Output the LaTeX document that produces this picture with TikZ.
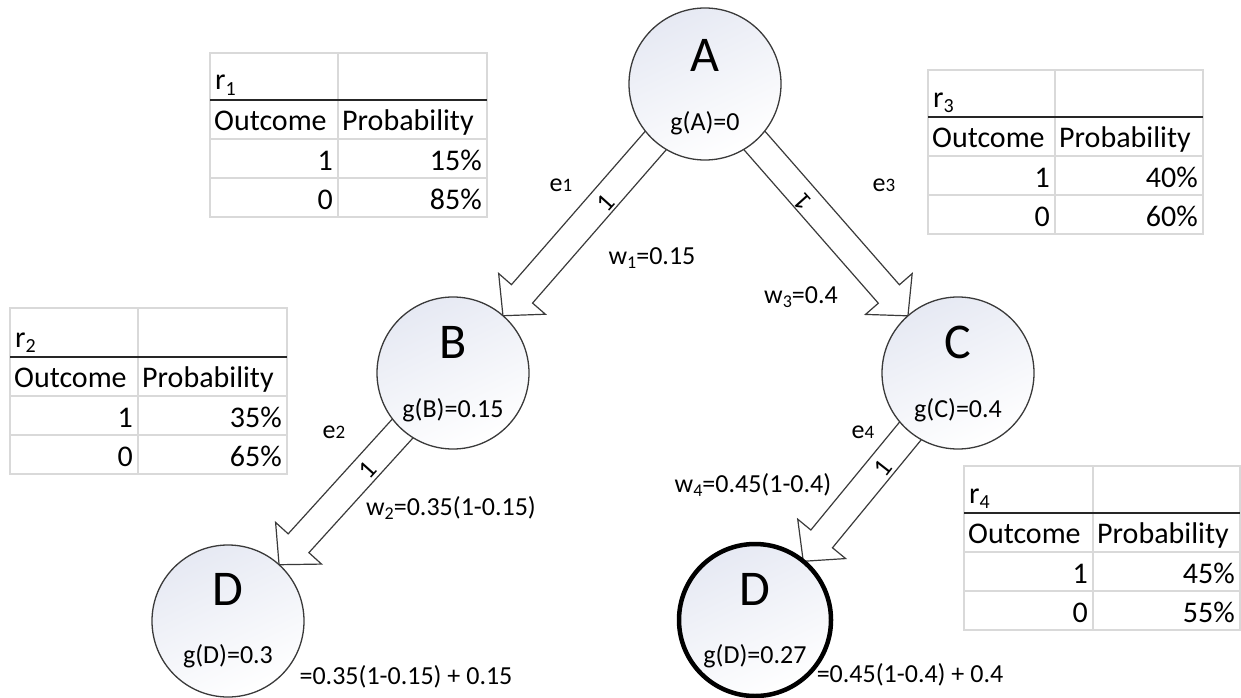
\documentclass[tikz,border=0pt]{standalone}
\usepackage{fontspec}
\setmainfont{Carlito}
\usetikzlibrary{calc}
\definecolor{gridc}{HTML}{D9D9D9}
\definecolor{nodeline}{HTML}{3A3A3A}
\definecolor{nodefill}{HTML}{E6E9F3}
\newcommand\fs[1]{\fontsize{#1}{#1}\selectfont}
\newcommand\lowsub[1]{\raisebox{-0.35ex}{\fs{18}#1}}
\newcommand\tabsub[1]{\raisebox{-0.35ex}{\fs{20}#1}}
\newcommand\edigit[1]{{\fs{19}#1}}
\pgfdeclarelayer{bg}
\pgfsetlayers{bg,main}
\tikzset{
  circnode/.style={circle, draw=nodeline, line width=1.3pt, minimum size=152pt, inner sep=0pt,
    top color=nodefill, bottom color=white, shading angle=25},
  boldcirc/.style={circnode, draw=black, line width=4.5pt},
  bigletter/.style={font=\fs{50}, anchor=base, inner sep=0pt},
  glabel/.style={font=\fs{26}, anchor=base, inner sep=0pt},
  edgelabel/.style={font=\fs{26}, inner sep=0pt},
  onelabel/.style={font=\fs{26}, inner sep=0pt},
  blockarrow/.style={draw=nodeline, line width=1.2pt, fill=white, line join=miter},
  gridline/.style={draw=gridc, line width=1.4pt},
  thickline/.style={draw=black!85, line width=2.4pt},
  celltext/.style={font=\fs{30}, inner sep=0pt},
}
% block arrow from source node #1 to target node #2, coordinate prefix #3
\newcommand\blockarr[3]{%
  \coordinate (#3-s) at (#1.center);
  \coordinate (#3-t) at ($(#2.center)!76pt!(#1.center)$);
  \coordinate (#3-h) at ($(#3-t)!29pt!(#1.center)$);
  \begin{pgfonlayer}{bg}
  \draw[blockarrow] ($(#3-s)!14pt!90:(#3-t)$) -- ($(#3-h)!14pt!90:(#3-t)$)
     -- ($(#3-h)!31pt!90:(#3-t)$) -- (#3-t) -- ($(#3-h)!31pt!-90:(#3-t)$)
     -- ($(#3-h)!14pt!-90:(#3-t)$) -- ($(#3-s)!14pt!-90:(#3-t)$) -- cycle;
  \end{pgfonlayer}
}
% table: #1 name, #2 x0, #3 xm, #4 x1, #5 ytop, #6 ythick, #7 sub, #8 p1, #9 p0
\newcommand\probtable[9]{%
  \pgfmathsetmacro\tabRa{#6+39}%
  \pgfmathsetmacro\tabRb{#6+78}%
  \pgfmathsetmacro\tabRc{#6+117}%
  \draw[gridline] (#2,#5) rectangle (#4,\tabRc);
  \draw[gridline] (#3,#5) -- (#3,\tabRc);
  \draw[gridline] (#2,\tabRa) -- (#4,\tabRa) (#2,\tabRb) -- (#4,\tabRb);
  \draw[thickline] (#2,#6) -- (#4,#6);
  \node[celltext, anchor=base west] (#1-title) at (#2+5,#6-10) {r\tabsub{#7}};
  \node[celltext, anchor=base west] (#1-h1) at (#2+4,#6+30) {Outcome};
  \node[celltext, anchor=base west] (#1-h2) at (#3+4,#6+30) {Probability};
  \node[celltext, anchor=base east] (#1-o1) at (#3-5,\tabRa+31) {1};
  \node[celltext, anchor=base east] (#1-p1) at (#4-5,\tabRa+31) {#8\%};
  \node[celltext, anchor=base east] (#1-o0) at (#3-5,\tabRb+31) {0};
  \node[celltext, anchor=base east] (#1-p0) at (#4-5,\tabRb+31) {#9\%};
}
\begin{document}
\begin{tikzpicture}[x=1pt,y=-1pt]
\useasboundingbox (0,0) rectangle (1241,698);

% circles
\node[circnode] (A) at (705,84) {};
\node[circnode] (B) at (453,373) {};
\node[circnode] (C) at (958,373) {};
\node[circnode] (D1) at (228,621) {};
\node[boldcirc] (D2) at (755,620) {};

\node[bigletter] (A-l) at (705,72) {A};
\node[glabel] (A-g) at (705,131) {g(A)=0};
\node[bigletter] (B-l) at (453,358) {B};
\node[glabel] (B-g) at (453,417) {g(B)=0.15};
\node[bigletter] (C-l) at (958,358) {C};
\node[glabel] (C-g) at (958,417) {g(C)=0.4};
\node[bigletter] (D1-l) at (228,605) {D};
\node[glabel] (D1-g) at (228,663) {g(D)=0.3};
\node[bigletter] (D2-l) at (755,605) {D};
\node[glabel] (D2-g) at (755,663) {g(D)=0.27};

% arrows
\blockarr{A}{B}{ab}
\blockarr{A}{C}{ac}
\blockarr{B}{D1}{bd}
\blockarr{C}{D2}{cd}

\node[onelabel, rotate=48] (ab-1) at (606,203) {1};
\node[onelabel, rotate=132] (ac-1) at (803,202) {1};
\node[onelabel, rotate=48] (bd-1) at (368,470) {1};
\node[onelabel, rotate=52] (cd-1) at (883,468) {1};

\node[edgelabel] (e1) at (561,185) {e\edigit{1}};
\node[edgelabel] (e3) at (884,185) {e\edigit{3}};
\node[edgelabel] (e2) at (334,432) {e\edigit{2}};
\node[edgelabel] (e4) at (863,432) {e\edigit{4}};

\node[edgelabel] (w1) at (652,258) {w\lowsub{1}=0.15};
\node[edgelabel] (w3) at (801,297) {w\lowsub{3}=0.4};
\node[edgelabel] (w2) at (451,508) {w\lowsub{2}=0.35(1-0.15)};
\node[edgelabel] (w4) at (753,485) {w\lowsub{4}=0.45(1-0.4)};

\node[edgelabel] (f1) at (406,677) {=0.35(1-0.15) + 0.15};
\node[edgelabel] (f2) at (910,675) {=0.45(1-0.4) + 0.4};

% tables
\probtable{r1}{210}{338}{487}{53}{100}{1}{15}{85}
\probtable{r3}{928}{1055}{1203}{70}{117}{3}{40}{60}
\probtable{r2}{10}{138}{287}{308}{357}{2}{35}{65}
\probtable{r4}{964}{1093}{1240}{466}{513}{4}{45}{55}
\end{tikzpicture}
\end{document}
